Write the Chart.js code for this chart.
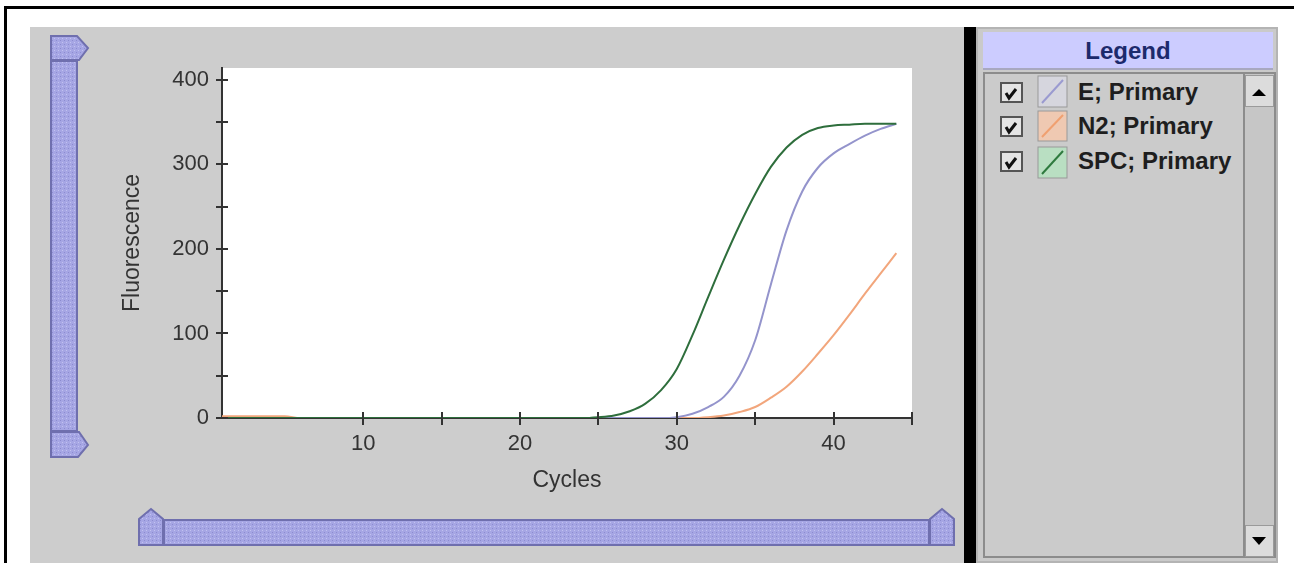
<!DOCTYPE html>
<html><head><meta charset="utf-8">
<script src="https://cdn.jsdelivr.net/npm/chart.js@4/dist/chart.umd.min.js"></script>
<style>
html,body{margin:0;padding:0;background:#fff;width:1294px;height:563px;overflow:hidden;font-family:"Liberation Sans",Arial,sans-serif;}
.abs{position:absolute;}
#topline{left:4px;top:6px;width:1290px;height:3px;background:#000;}
#leftline{left:4px;top:6px;width:3px;height:557px;background:#000;}
#panel{left:30px;top:27px;width:934px;height:536px;background:#cdcdcd;}
#bar{left:964px;top:27px;width:12px;height:536px;background:#000;}
#legendPanel{left:976px;top:27px;width:302px;height:536px;background:#cacaca;box-sizing:border-box;border:2px solid #b4b4b4;}
#lhead{left:983px;top:32px;width:290px;height:38px;background:#ccccff;color:#1c2a6c;font-weight:bold;font-size:24px;text-align:center;line-height:38px;border-bottom:2px solid #a8a8c0;box-sizing:border-box;}
#listbox{left:983px;top:72px;width:261px;height:486px;background:#cbcbcb;box-sizing:border-box;border:2px solid #8c8c8c;border-right:none;}
#sbar{left:1243px;top:72px;width:33px;height:486px;background:#c6c6c6;box-sizing:border-box;border:2px solid #8c8c8c;}
.sbtn{left:1245px;width:29px;height:32px;background:#dcdcdc;box-sizing:border-box;border:1px solid #9a9a9a;}
.row{left:1078px;font-weight:bold;font-size:24px;color:#1e1e1e;height:30px;line-height:30px;white-space:nowrap;}
#c{position:absolute;left:0;top:0;z-index:3;pointer-events:none;}
svg.ov{position:absolute;left:0;top:0;z-index:2;}
</style></head>
<body>
<div id="topline" class="abs"></div>
<div id="leftline" class="abs"></div>
<div id="panel" class="abs"></div>
<div id="bar" class="abs"></div>
<div id="legendPanel" class="abs"></div>
<div id="lhead" class="abs">Legend</div>
<div id="listbox" class="abs"></div>
<div id="sbar" class="abs"></div>
<div class="abs sbtn" style="top:75px"></div>
<div class="abs sbtn" style="top:525px"></div>
<div class="abs row" style="top:77px">E; Primary</div>
<div class="abs row" style="top:111px">N2; Primary</div>
<div class="abs row" style="top:146px">SPC; Primary</div>
<svg class="ov" width="1294" height="563">
  <defs>
    <pattern id="tex" width="4" height="4" patternUnits="userSpaceOnUse">
      <rect width="4" height="4" fill="#a6a6e4"/>
      <rect x="0" y="0" width="1" height="1" fill="#8c8cd0"/>
      <rect x="2" y="2" width="1" height="1" fill="#c2c2f0"/>
    </pattern>
  </defs>
  <g fill="url(#tex)" stroke="#6f6fae" stroke-width="2">
    <polygon points="51,36 77,36 88,48 79,60 51,60"/>
    <rect x="51" y="61" width="26" height="370"/>
    <polygon points="51,432 79,432 88,445 78,457 51,457"/>
    <polygon points="139,519 151,509 163,519 163,545 139,545"/>
    <rect x="164" y="520" width="765" height="25"/>
    <polygon points="930,519 942,509 954,519 954,545 930,545"/>
  </g>
  <polygon points="1252,96 1259,89 1266,96" fill="#000"/>
  <polygon points="1252,537 1266,537 1259,545" fill="#000"/>
  <g stroke="#555" stroke-width="2" fill="#e4e4e4">
    <rect x="1001" y="83" width="21" height="19"/>
    <rect x="1001" y="117" width="21" height="19"/>
    <rect x="1001" y="152" width="21" height="19"/>
  </g>
  <g stroke="#111" stroke-width="3" fill="none">
    <polyline points="1006,93 1009,98 1016,89"/>
    <polyline points="1006,127 1009,132 1016,123"/>
    <polyline points="1006,162 1009,167 1016,158"/>
  </g>
  <rect x="1038" y="76" width="29" height="31" fill="#d6d6de" stroke="#999" stroke-width="1"/>
  <line x1="1042" y1="103" x2="1063" y2="80" stroke="#9a9ad0" stroke-width="2"/>
  <rect x="1038" y="111" width="29" height="30" fill="#efc9b2" stroke="#999" stroke-width="1"/>
  <line x1="1042" y1="137" x2="1063" y2="115" stroke="#f0a070" stroke-width="2"/>
  <rect x="1038" y="147" width="29" height="31" fill="#b9dfc2" stroke="#999" stroke-width="1"/>
  <line x1="1042" y1="174" x2="1063" y2="151" stroke="#2e7a3e" stroke-width="2"/>
</svg>
<canvas id="c" width="1294" height="563"></canvas>
<script>
const cycles = [1,2,3,4,5,6,7,8,9,10,11,12,13,14,15,16,17,18,19,20,21,22,23,24,25,26,27,28,29,30,31,32,33,34,35,36,37,38,39,40,41,42,43,44];
const seriesE =   [0,0,0,0,0,0,0,0,0,0,0,0,0,0,0,0,0,0,0,0,0,0,0,0,0,0,0,0,0,1,5,13,25,50,92,158,222,268,296,313,324,334,342,348];
const seriesN2 =  [2,2,2,2,2,0,0,0,0,0,0,0,0,0,0,0,0,0,0,0,0,0,0,0,0,0,0,0,0,0,0,1,3,7,13,24,37,55,76,98,122,147,171,195];
const seriesSPC = [0,0,0,0,0,0,0,0,0,0,0,0,0,0,0,0,0,0,0,0,0,0,0,0,1,3,8,17,33,58,98,143,187,228,265,297,320,335,343,346,347,348,348,348];
const xTickValues = [10,15,20,25,30,35,40,45];
const xTickLabels = ['10','','20','','30','','40',''];
const yTickValues = [0,50,100,150,200,250,300,350,400];
const yTickLabels = ['0','','100','','200','','300','','400'];
const seriesNames = ['E; Primary','N2; Primary','SPC; Primary'];

const toXY = arr => arr.map((v,i)=>({x:cycles[i], y:v}));
const tickFont = {family:'"Liberation Sans", Arial, sans-serif', size:22};
const titleFont = {family:'"Liberation Sans", Arial, sans-serif', size:23};

const plotBg = {
  id:'plotBg',
  beforeDraw(chart){
    const {ctx, chartArea:a} = chart;
    ctx.save(); ctx.fillStyle='#ffffff';
    ctx.fillRect(a.left, a.top, a.right-a.left, a.bottom-a.top);
    ctx.restore();
  }
};
const tickMarks = {
  id:'tickMarks',
  afterDraw(chart){
    const ctx = chart.ctx, xs = chart.scales.x, ys = chart.scales.y;
    ctx.save(); ctx.strokeStyle='#333'; ctx.lineWidth=2; ctx.beginPath();
    xs.ticks.forEach(t=>{const p=Math.round(xs.getPixelForValue(t.value)); ctx.moveTo(p, xs.top-6); ctx.lineTo(p, xs.top+7);});
    ys.ticks.forEach(t=>{const p=Math.round(ys.getPixelForValue(t.value)); ctx.moveTo(ys.right-6,p); ctx.lineTo(ys.right+6,p);});
    ctx.stroke(); ctx.restore();
  }
};

new Chart(document.getElementById('c'), {
  type:'line',
  data:{
    datasets:[
      {label:seriesNames[0], data:toXY(seriesE), borderColor:'#9494cc', borderWidth:2, pointRadius:0, cubicInterpolationMode:'monotone', order:1},
      {label:seriesNames[1], data:toXY(seriesN2), borderColor:'#f2a67c', borderWidth:2, pointRadius:0, cubicInterpolationMode:'monotone', order:2},
      {label:seriesNames[2], data:toXY(seriesSPC), borderColor:'#2e6e3c', borderWidth:2, pointRadius:0, cubicInterpolationMode:'monotone', order:0}
    ]
  },
  options:{
    responsive:false, animation:false,
    layout:{padding:{left:0, top:68, right:382, bottom:65}},
    plugins:{legend:{display:false}, tooltip:{enabled:false}},
    scales:{
      x:{
        type:'linear', min:1, max:45,
        grid:{display:false, drawTicks:false},
        border:{display:true, color:'#333', width:2},
        afterBuildTicks(s){ s.ticks = xTickValues.map(v=>({value:v})); },
        ticks:{autoSkip:false, maxRotation:0, padding:13, color:'#333', font:tickFont,
          callback:(v)=>{const i=xTickValues.indexOf(v); return i>=0?xTickLabels[i]:'';}},
        title:{display:true, text:'Cycles', color:'#333', font:titleFont, padding:{top:0,bottom:4}},
        afterFit(s){ s.height = 80; }
      },
      y:{
        type:'linear', min:0, max:414,
        grid:{display:false, drawTicks:false},
        border:{display:true, color:'#333', width:2},
        afterBuildTicks(s){ s.ticks = yTickValues.map(v=>({value:v})); },
        ticks:{autoSkip:false, padding:13, color:'#333', font:tickFont,
          callback:(v)=>{const i=yTickValues.indexOf(v); return i>=0?yTickLabels[i]:'';}},
        title:{display:true, text:'Fluorescence', color:'#333', font:titleFont, padding:{top:119,bottom:0}},
        afterFit(s){ s.width = 222; }
      }
    }
  },
  plugins:[plotBg, tickMarks]
});
</script>
</body></html>
